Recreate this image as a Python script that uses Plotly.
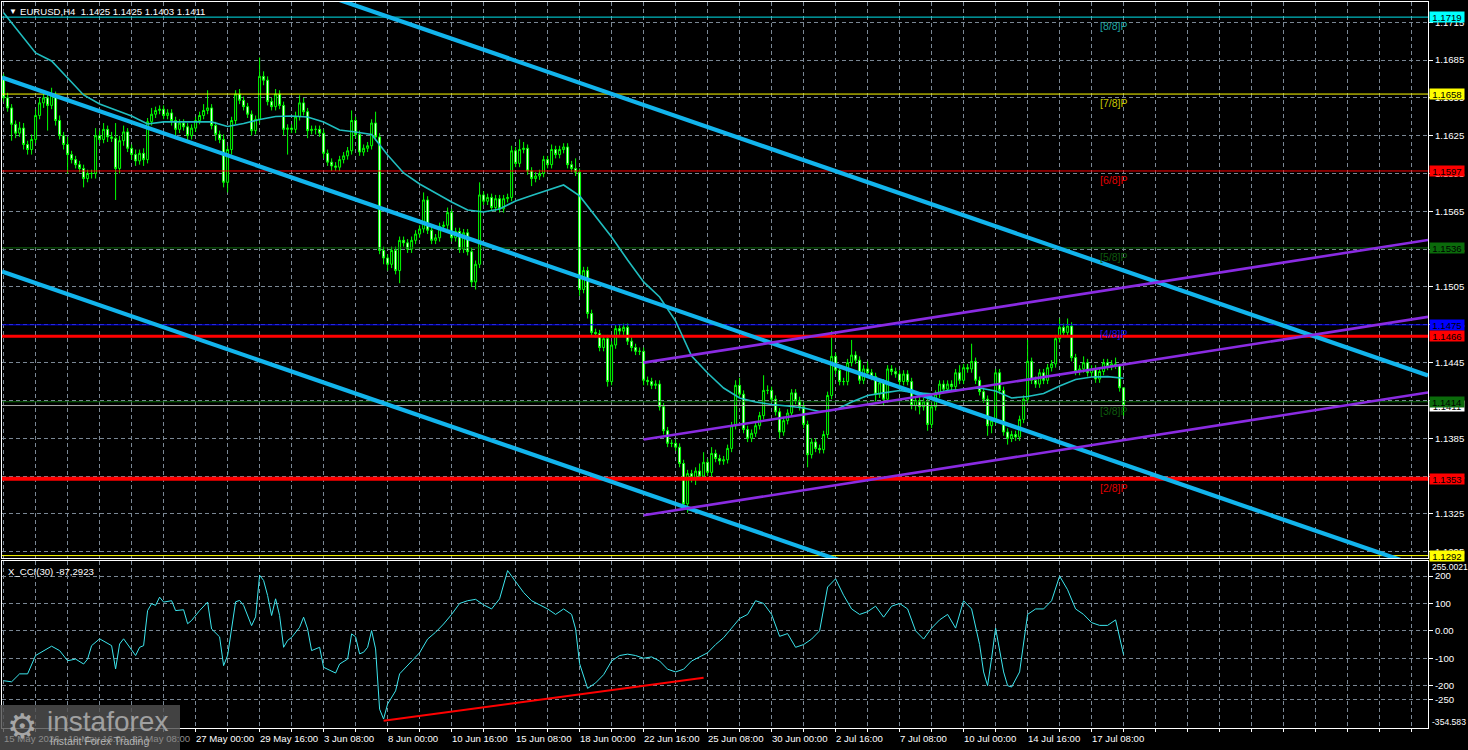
import plotly.graph_objects as go

W, H = 1468, 750

# ------------------------------------------------------------------ data
first_open = 1.1672
close = [
    1.1655, 1.1647, 1.1634, 1.1627, 1.1631, 1.1618, 1.1614, 1.1622, 1.1641, 1.1651,
    1.1655, 1.1649, 1.1657, 1.1637, 1.1625, 1.1618, 1.1610, 1.1606, 1.1602, 1.1599,
    1.1591, 1.1595, 1.1595, 1.1625, 1.1622, 1.1630, 1.1624, 1.1623, 1.1599, 1.1621,
    1.1628, 1.1615, 1.1610, 1.1605, 1.1611, 1.1606, 1.1636, 1.1642, 1.1645, 1.1646,
    1.1641, 1.1643, 1.1637, 1.1630, 1.1635, 1.1632, 1.1625, 1.1631, 1.1637, 1.1641,
    1.1645, 1.1647, 1.1633, 1.1626, 1.1622, 1.1588, 1.1614, 1.1637, 1.1658, 1.1653,
    1.1648, 1.1642, 1.1629, 1.1638, 1.1672, 1.1669, 1.1652, 1.1648, 1.1658, 1.1649,
    1.1630, 1.1631, 1.1630, 1.1640, 1.1651, 1.1644, 1.1629, 1.1630, 1.1630, 1.1627,
    1.1611, 1.1604, 1.1601, 1.1600, 1.1606, 1.1609, 1.1613, 1.1637, 1.1626, 1.1612,
    1.1615, 1.1617, 1.1635, 1.1624, 1.1534, 1.1528, 1.1523, 1.1534, 1.1518, 1.1542,
    1.1540, 1.1535, 1.1542, 1.1547, 1.1551, 1.1574, 1.1550, 1.1542, 1.1544, 1.1553,
    1.1554, 1.1564, 1.1544, 1.1549, 1.1535, 1.1548, 1.1533, 1.1509, 1.1523, 1.1578,
    1.1573, 1.1576, 1.1568, 1.1575, 1.1567, 1.1575, 1.1576, 1.1613, 1.1603, 1.1614,
    1.1615, 1.1597, 1.1591, 1.1593, 1.1595, 1.1606, 1.1602, 1.1614, 1.1610, 1.1614,
    1.1616, 1.1602, 1.1599, 1.1596, 1.1503, 1.1518, 1.1484, 1.1469, 1.1468, 1.1457,
    1.1464, 1.1430, 1.1459, 1.1472, 1.1470, 1.1473, 1.1462, 1.1457, 1.1454, 1.1454,
    1.1431, 1.1430, 1.1427, 1.1428, 1.1410, 1.1391, 1.1381, 1.1381, 1.1378, 1.1365,
    1.1333, 1.1357, 1.1354, 1.1359, 1.1355, 1.1366, 1.1358, 1.1373, 1.1369, 1.1367,
    1.1368, 1.1377, 1.1395, 1.1427, 1.1420, 1.1392, 1.1385, 1.1389, 1.1395, 1.1403,
    1.1423, 1.1423, 1.1416, 1.1406, 1.1390, 1.1399, 1.1405, 1.1421, 1.1415, 1.1410,
    1.1396, 1.1372, 1.1382, 1.1377, 1.1376, 1.1388, 1.1419, 1.1450, 1.1439, 1.1430,
    1.1430, 1.1445, 1.1451, 1.1447, 1.1431, 1.1440, 1.1437, 1.1434, 1.1420, 1.1429,
    1.1416, 1.1440, 1.1438, 1.1436, 1.1430, 1.1436, 1.1430, 1.1411, 1.1415, 1.1410,
    1.1414, 1.1396, 1.1410, 1.1420, 1.1428, 1.1424, 1.1428, 1.1426, 1.1437, 1.1431,
    1.1441, 1.1440, 1.1446, 1.1431, 1.1422, 1.1416, 1.1395, 1.1399, 1.1437, 1.1423,
    1.1390, 1.1385, 1.1388, 1.1386, 1.1400, 1.1416, 1.1446, 1.1431, 1.1428, 1.1437,
    1.1431, 1.1441, 1.1444, 1.1464, 1.1473, 1.1469, 1.1474, 1.1449, 1.1438, 1.1440,
    1.1445, 1.1437, 1.1440, 1.1432, 1.1438, 1.1445, 1.1442, 1.1444, 1.1443, 1.1425,
    1.1411,
]
upper_wick_pips = [
    2, 4, 3, 3, 5, 4, 3, 4, 5, 4,   3, 3, 6, 3, 4, 3, 6, 3, 3, 3,
    3, 3, 3, 6, 4, 5, 3, 4, 12, 4,  5, 3, 3, 4, 3, 4, 3, 5, 3, 3,
    3, 3, 3, 3, 3, 3, 3, 3, 3, 3,   5, 14, 3, 3, 3, 4, 3, 3, 3, 4,
    3, 3, 3, 3, 15, 4, 3, 3, 4, 3,  3, 3, 3, 4, 6, 4, 3, 3, 3, 3,
    3, 3, 3, 3, 3, 3, 3, 8, 3, 3,   3, 3, 3, 9, 3, 3, 3, 3, 3, 3,
    3, 3, 3, 3, 3, 6, 3, 3, 3, 3,   3, 4, 3, 3, 3, 3, 3, 3, 3, 10,
    3, 3, 3, 3, 3, 3, 3, 4, 3, 8,   5, 3, 3, 3, 3, 3, 3, 4, 3, 3,
    3, 3, 3, 8, 3, 3, 3, 3, 3, 3,   3, 3, 3, 3, 3, 3, 3, 3, 3, 3,
    3, 3, 3, 3, 3, 3, 3, 3, 3, 3,   3, 3, 3, 3, 6, 8, 3, 5, 3, 3,
    3, 3, 3, 4, 6, 3, 3, 3, 3, 3,   12, 4, 3, 3, 3, 3, 3, 3, 3, 3,
    3, 3, 3, 3, 3, 3, 3, 20, 3, 3,  3, 3, 12, 3, 3, 3, 6, 3, 3, 3,
    3, 3, 3, 3, 3, 3, 3, 3, 3, 3,   3, 3, 3, 3, 3, 3, 3, 3, 3, 6,
    3, 3, 14, 3, 3, 3, 3, 3, 3, 3,  3, 3, 3, 3, 3, 3, 17, 3, 3, 3,
    3, 3, 3, 3, 7, 3, 6, 3, 3, 3,   5, 3, 3, 3, 3, 3, 3, 3, 5, 0,
    0,
]
lower_wick_pips = [
    3, 3, 13, 4, 3, 4, 4, 4, 3, 3,  4, 20, 3, 4, 3, 4, 15, 3, 3, 3,
    7, 3, 4, 4, 3, 3, 4, 3, 25, 4,  4, 3, 4, 4, 3, 5, 3, 3, 3, 3,
    3, 3, 4, 6, 3, 3, 5, 3, 3, 3,   3, 3, 3, 5, 3, 4, 8, 4, 3, 3,
    3, 3, 4, 3, 3, 4, 3, 3, 3, 3,   5, 20, 3, 3, 3, 3, 6, 3, 4, 3,
    4, 3, 4, 3, 3, 3, 3, 3, 3, 3,   3, 3, 3, 3, 3, 5, 5, 3, 3, 10,
    3, 3, 3, 3, 3, 3, 3, 3, 3, 3,   3, 3, 3, 3, 3, 3, 3, 4, 6, 3,
    3, 3, 3, 3, 3, 3, 3, 3, 3, 3,   3, 3, 6, 3, 3, 3, 3, 3, 3, 3,
    3, 3, 3, 3, 5, 3, 4, 3, 3, 3,   3, 4, 3, 3, 3, 3, 3, 3, 3, 3,
    4, 3, 3, 3, 3, 3, 3, 3, 3, 3,   3, 7, 4, 6, 3, 3, 3, 4, 3, 3,
    3, 3, 3, 3, 3, 3, 3, 3, 3, 3,   3, 3, 3, 3, 5, 3, 3, 3, 3, 3,
    3, 10, 3, 3, 3, 3, 3, 3, 3, 3,  3, 3, 3, 3, 3, 3, 3, 3, 6, 3,
    5, 3, 3, 3, 3, 3, 3, 3, 4, 6,   3, 5, 3, 3, 3, 3, 3, 3, 3, 3,
    3, 3, 3, 3, 3, 3, 8, 6, 3, 3,   3, 5, 3, 3, 3, 3, 3, 3, 3, 3,
    3, 3, 3, 3, 3, 3, 3, 3, 3, 3,   3, 3, 3, 3, 3, 3, 3, 3, 3, 3,
    8,
]

# moving average (read every 4th bar)
ma_bars = list(range(0, 281, 4))
ma_vals = [
    1.17225, 1.17064, 1.16906, 1.16842, 1.16708, 1.16573, 1.16501, 1.16454, 1.16406, 1.16343,
    1.16359, 1.16359, 1.16359, 1.16359, 1.16323, 1.16347, 1.16378, 1.16402, 1.16406, 1.16398,
    1.16359, 1.16295, 1.16279, 1.16259, 1.16097, 1.15954, 1.15867, 1.15795, 1.15724, 1.15661,
    1.15645, 1.15669, 1.15732, 1.15776, 1.15819, 1.15859, 1.15772, 1.15605, 1.15447, 1.15264,
    1.15090, 1.14971, 1.14780, 1.14503, 1.14368, 1.14249, 1.14170, 1.14138, 1.14118, 1.14106,
    1.14091, 1.14063, 1.14075, 1.14138, 1.14190, 1.14210, 1.14229, 1.14210, 1.14202, 1.14229,
    1.14241, 1.14249, 1.14225, 1.14170, 1.14182, 1.14206, 1.14265, 1.14317, 1.14336, 1.14339,
    1.14326,
]

# CCI(30)
cci_bars = [0, 2, 4, 6, 8, 10, 12, 14, 16, 18, 20, 21, 22, 24, 27, 28, 29, 30, 33, 34,
            35, 36, 37, 38, 39, 40, 42, 43, 45, 46, 47, 49, 51, 52, 54, 55, 56, 58, 59, 60,
            62, 63, 64, 65, 66, 67, 68, 69, 70, 71, 72, 74, 75, 76, 77, 79, 80, 83, 84, 86,
            87, 88, 89, 90, 91, 92, 93, 94, 95, 96, 98, 99, 102, 104, 106, 108, 110, 112, 114, 116,
            118, 120, 122, 124, 126, 128, 130, 132, 134, 136, 138, 140, 142, 143, 144, 146, 148, 150, 152, 154,
            156, 158, 160, 162, 164, 166, 168, 170, 172, 174, 176, 178, 180, 182, 184, 186, 188, 190, 192, 194,
            196, 198, 200, 202, 204, 206, 208, 210, 212, 214, 216, 218, 220, 222, 224, 226, 228, 230, 232, 234,
            236, 238, 240, 242, 244, 245, 246, 247, 248, 250, 251, 252, 254, 256, 258, 260, 262, 264, 266, 268,
            270, 272, 274, 276, 278, 280]
cci_vals = [-182, -186, -157, -157, -90, -72, -56, -72, -109, -103, -121, -103, -54, -29, -54, -139, -48, -29, -90, -60,
            -54, 74, 99, 93, 123, 105, 110, 74, 77, 26, 38, 74, 105, 7, -22, -127, -90, 106, 111, 93,
            19, 51, 203, 184, 129, 56, 117, 56, -60, -35, -24, 13, 50, 7, -72, -60, -133, -154, -121, -103,
            -11, -22, -84, -78, -60, 1, -66, -286, -322, -267, -219, -157, -110, -80, -30, -5, 25, 60, 100, 110,
            115, 95, 80, 117, 220, 180, 140, 110, 95, 80, 60, 80, 60, 7, -120, -210, -190, -160, -110, -90,
            -85, -90, -100, -95, -110, -140, -150, -140, -110, -95, -80, -50, -25, 10, 45, 60, 110, 100, 60, -20,
            -10, -60, -50, -30, 0, 160, 190, 130, 80, 60, 70, 90, 50, 90, 100, 80, 0, -30, 10, 40,
            60, 10, 110, 80, -50, -150, -200, -100, 10, -150, -200, -205, -150, 60, 80, 80, 110, 200, 150, 80,
            60, 30, 20, 20, 40, -87.2923]
cci_trend_bars = [95, 175]
cci_trend_vals = [-328, -171]

# Murrey math levels
murrey_levels = [1.1719, 1.1658, 1.1597, 1.1536, 1.1475, 1.1414, 1.1353, 1.1292]
murrey_names = ['[8/8]P', '[7/8]P', '[6/8]P', '[5/8]P', '[4/8]P', '[3/8]P', '[2/8]P', '']
sr_levels = [1.1466, 1.1353]        # thick red support / resistance
bid_price = 1.1411

# regression channel (descending) and ascending channel, end points
reg_bars = [-0.4, 356.1]
reg_mid = [1.16711, 1.12810]
reg_half = 0.01538
asc_bars = [160, 356.1]
asc_upper = [1.14450, 1.15423]
asc_middle = [1.13840, 1.14813]
asc_lower = [1.13240, 1.14213]

date_bars = list(range(0, 273, 16))
date_text = ['15 May 2026', '19 May 16:00', '22 May 08:00', '27 May 00:00', '29 May 16:00',
             '3 Jun 08:00', '8 Jun 00:00', '10 Jun 16:00', '15 Jun 08:00', '18 Jun 00:00',
             '22 Jun 16:00', '25 Jun 08:00', '30 Jun 00:00', '2 Jul 16:00', '7 Jul 08:00',
             '10 Jul 00:00', '14 Jul 16:00', '17 Jul 08:00']

# ------------------------------------------------------------------ derived candles
n = len(close)
bars = list(range(n))
opens = [first_open] + close[:-1]
highs = [max(o, c) + u * 0.0001 for o, c, u in zip(opens, close, upper_wick_pips)]
lows = [min(o, c) - d * 0.0001 for o, c, d in zip(opens, close, lower_wick_pips)]

# ------------------------------------------------------------------ style
FONT = 'Liberation Sans, Arial, sans-serif'
GRID = '#7a8794'
px_x = lambda x: x / W
px_y = lambda y: 1 - y / H
XR = [-0.4, 356.1]
XDOM = [px_x(2), px_x(1428)]

fig = go.Figure()

murrey_colors = ['#00E5EE', '#FFFF00', '#FF0000', '#0B6B0B', '#0000FF', '#0B6B0B', '#FF0000', '#FFFF00']
murrey_text_colors = ['#1FA5A5', '#C8C800', '#E00000', '#0E5A0E', '#1414E6', '#0E5A0E', '#E00000', '#C8C800']
for lv, col in zip(murrey_levels, murrey_colors):
    fig.add_trace(go.Scatter(x=XR, y=[lv, lv], mode='lines', line=dict(color=col, width=1),
                             hoverinfo='skip', showlegend=False))
fig.add_trace(go.Scatter(x=XR, y=[bid_price, bid_price], mode='lines', line=dict(color='#A8A8A8', width=1),
                         hoverinfo='skip', showlegend=False))
for lv, w in zip(sr_levels, [3, 4]):
    fig.add_trace(go.Scatter(x=XR, y=[lv, lv], mode='lines', line=dict(color='#FF0000', width=w),
                             hoverinfo='skip', showlegend=False))

fig.add_trace(go.Candlestick(
    x=bars, open=opens, high=highs, low=lows, close=close,
    increasing=dict(line=dict(color='#00FF00', width=1), fillcolor='#000000'),
    decreasing=dict(line=dict(color='#00FF00', width=1), fillcolor='#FFFFFF'),
    whiskerwidth=0, hoverinfo='skip', showlegend=False))

fig.add_trace(go.Scatter(x=ma_bars, y=ma_vals, mode='lines', line=dict(color='#20BEC0', width=1.6),
                         hoverinfo='skip', showlegend=False))

for off in (-reg_half, 0.0, reg_half):
    fig.add_trace(go.Scatter(x=reg_bars, y=[v + off for v in reg_mid], mode='lines',
                             line=dict(color='#12B4EC', width=4.2), hoverinfo='skip', showlegend=False))
for ln in (asc_upper, asc_middle, asc_lower):
    fig.add_trace(go.Scatter(x=asc_bars, y=ln, mode='lines', line=dict(color='#8A2BE2', width=2.6),
                             hoverinfo='skip', showlegend=False))

# CCI panel
fig.add_trace(go.Scatter(x=cci_bars, y=cci_vals, mode='lines', line=dict(color='#3CE6EE', width=1),
                         xaxis='x2', yaxis='y2', hoverinfo='skip', showlegend=False))
fig.add_trace(go.Scatter(x=cci_trend_bars, y=cci_trend_vals, mode='lines', line=dict(color='#FF0000', width=2),
                         xaxis='x2', yaxis='y2', hoverinfo='skip', showlegend=False))

price_ticks = [round(1.1295 + 0.003 * k, 4) for k in range(15)]
cci_ticks = [200, 100, 0, -100, -200, -250]
cci_ticktext = ['200', '100', '0.00', '-100', '-200', '-250']

axis_common = dict(showline=True, mirror=True, linecolor='#FFFFFF', linewidth=1, zeroline=False,
                   gridcolor=GRID, griddash='4px,3px', gridwidth=1)

fig.update_layout(
    width=W, height=H, margin=dict(l=0, r=0, t=0, b=0, pad=0),
    paper_bgcolor='#000000', plot_bgcolor='#000000', showlegend=False,
    font=dict(family=FONT, color='#FFFFFF', size=10),
    xaxis=dict(domain=XDOM, range=XR, anchor='y', tickvals=list(range(0, 357, 8)),
               showticklabels=False, ticks='', showgrid=True, rangeslider=dict(visible=False), **axis_common),
    yaxis=dict(domain=[px_y(558), px_y(2)], range=[1.1290086, 1.1730994], anchor='x', side='right',
               tickvals=price_ticks, ticktext=['%.4f' % t for t in price_ticks],
               ticks='outside', ticklen=4, tickcolor='#FFFFFF', tickfont=dict(size=9.6, color='#FFFFFF'),
               showgrid=True, **axis_common),
    xaxis2=dict(domain=XDOM, range=XR, anchor='y2', tickvals=list(range(0, 357, 8)),
                ticktext=[''] * len(range(0, 357, 8)), ticks='outside', ticklen=3, tickcolor='#FFFFFF',
                showgrid=True, **axis_common),
    yaxis2=dict(domain=[px_y(728), px_y(561)], range=[-354.583, 255.0021], anchor='x2', side='right',
                tickvals=cci_ticks, ticktext=cci_ticktext, ticks='outside', ticklen=4, tickcolor='#FFFFFF',
                tickfont=dict(size=9.6, color='#FFFFFF'), showgrid=True, **axis_common),
)

ann = []
# title
ann.append(dict(text='▼', x=px_x(7), y=px_y(11), xref='paper', yref='paper', xanchor='left', yanchor='middle',
                showarrow=False, font=dict(size=8, color='#FFFFFF')))
ann.append(dict(text='EURUSD,H4  1.1425 1.1425 1.1403 1.1411', x=px_x(18), y=px_y(11), xref='paper', yref='paper',
                xanchor='left', yanchor='middle', showarrow=False, font=dict(size=9.6, color='#FFFFFF')))
ann.append(dict(text='X_CCI(30) -87,2923', x=px_x(6), y=px_y(571), xref='paper', yref='paper',
                xanchor='left', yanchor='middle', showarrow=False, font=dict(size=9.6, color='#FFFFFF')))
# cci scale extremes
ann.append(dict(text='255.0021', x=px_x(1430), y=px_y(567), xref='paper', yref='paper', xanchor='left',
                yanchor='middle', showarrow=False, font=dict(size=8.6, color='#FFFFFF')))
ann.append(dict(text='-354.583', x=px_x(1430), y=px_y(722), xref='paper', yref='paper', xanchor='left',
                yanchor='middle', showarrow=False, font=dict(size=8.6, color='#FFFFFF')))
# murrey labels
for lv, name, col in zip(murrey_levels, murrey_names, murrey_text_colors):
    if name:
        ann.append(dict(text=name, x=273.6, y=lv, xref='x', yref='y', xanchor='left', yanchor='top',
                        yshift=-1, showarrow=False, font=dict(size=10.5, color=col)))
# price boxes on the right scale
boxes = [(1.1719, '#00FFFF'), (1.1658, '#FFFF00'), (1.1597, '#FF0000'), (1.1536, '#0B6B0B'),
         (1.1475, '#0000FF'), (1.1466, '#FF0000'), (1.1411, '#FFFFFF'), (1.1414, '#0B6B0B'),
         (1.1353, '#FF0000'), (1.1292, '#FFFF00')]
for lv, col in boxes:
    ann.append(dict(text='%.4f' % lv, x=px_x(1429), y=lv, xref='paper', yref='y', xanchor='left',
                    yanchor='middle', showarrow=False, bgcolor=col, width=34, height=10, borderpad=0,
                    font=dict(size=9.6, color='#000000')))
# date labels
for i, (b, t) in enumerate(zip(date_bars, date_text)):
    col = '#8C8C8C' if i < 3 else '#FFFFFF'
    ann.append(dict(text=t, x=b, y=px_y(738), xref='x2', yref='paper', xanchor='left', yanchor='middle',
                    xshift=-2, showarrow=False, font=dict(size=9.6, color=col)))
# logo
ann.append(dict(text='⚙', x=px_x(22), y=px_y(726), xref='paper', yref='paper', xanchor='center', yanchor='middle',
                showarrow=False, font=dict(size=34, color='#A6A6A6', family='DejaVu Sans')))
ann.append(dict(text='instaforex', x=px_x(45), y=px_y(721), xref='paper', yref='paper', xanchor='left',
                yanchor='middle', showarrow=False, font=dict(size=28, color='#A0A0A0', family=FONT)))
ann.append(dict(text='Instant Forex Trading', x=px_x(48), y=px_y(741), xref='paper', yref='paper', xanchor='left',
                yanchor='middle', showarrow=False, font=dict(size=10.5, color='#B4B4B4', family=FONT)))
fig.update_layout(annotations=ann)

fig.add_shape(type='rect', xref='paper', yref='paper', x0=0, x1=px_x(180), y0=0, y1=px_y(705),
              fillcolor='rgba(80,80,80,0.82)', line=dict(width=0), layer='above')

fig.write_html('out.html')
